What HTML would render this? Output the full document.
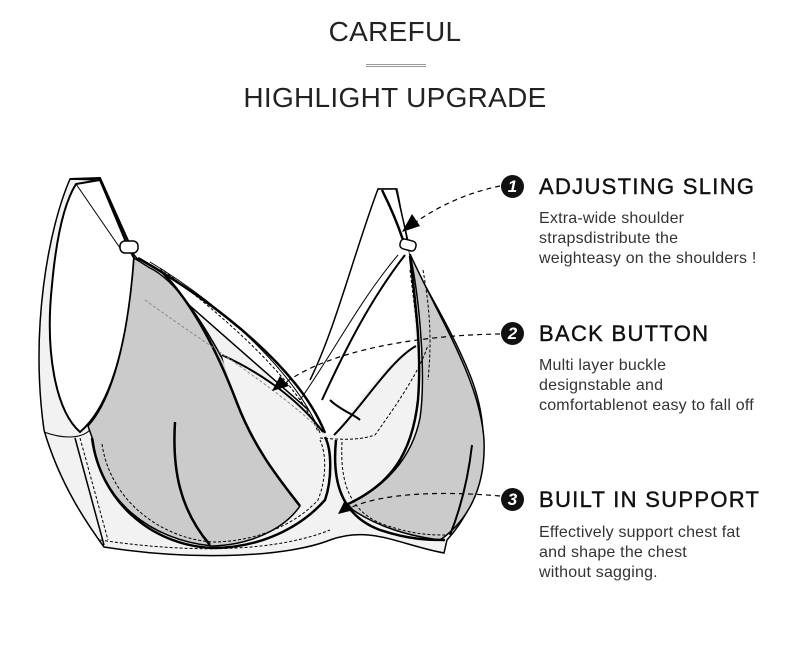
<!DOCTYPE html>
<html><head><style>
body{margin:0;width:790px;height:665px;background:#fff;position:relative;overflow:hidden;font-family:"Liberation Sans",sans-serif;color:#222}
.t{position:absolute;left:0;width:790px;text-align:center;font-size:28px;letter-spacing:0.3px;color:#222}
.h{position:absolute;left:539px;font-size:22px;letter-spacing:1.3px;color:#111;-webkit-text-stroke:0.4px #111}
.p{position:absolute;left:539px;font-size:16px;line-height:20px;color:#333;letter-spacing:0.2px}
.b{position:absolute;width:23px;height:23px;border-radius:50%;background:#111;color:#fff;font-weight:bold;font-style:italic;font-size:17px;text-align:center;line-height:23px}
</style></head><body>
<div class="t" style="top:16px">CAREFUL</div>
<div style="position:absolute;left:366px;top:64px;width:60px;border-top:1px solid #999;border-bottom:1px solid #999;height:1px"></div>
<div class="t" style="top:82px">HIGHLIGHT UPGRADE</div>

<div class="b" style="left:501px;top:175px">1</div>
<div class="h" style="top:174px">ADJUSTING SLING</div>
<div class="p" style="top:209px">Extra-wide shoulder<br>strapsdistribute the<br>weighteasy on the shoulders !</div>
<div class="b" style="left:501px;top:322px">2</div>
<div class="h" style="top:321px">BACK BUTTON</div>
<div class="p" style="top:356px">Multi layer buckle<br>designstable and<br>comfortablenot easy to fall off</div>
<div class="b" style="left:501px;top:488px">3</div>
<div class="h" style="top:487px">BUILT IN SUPPORT</div>
<div class="p" style="top:523px">Effectively support chest fat<br>and shape the chest<br>without sagging.</div>

<svg width="790" height="665" style="position:absolute;left:0;top:0" fill="none" stroke="#000">
<path d="M70,179 C48,230 30,330 44,430 C60,485 88,525 104,547 C200,562 290,556 330,540 C370,525 400,545 444,553 L447,540 C488,495 492,430 470,375 C450,325 420,280 409,254 L397,189 L378,189 C350,250 330,330 320,420 L140,262 L130,250 L100,180 Z" fill="#f2f2f2" stroke-width="1.5"/>
<path d="M100,180 L128,247 L134,258 C128,340 112,405 80,432 C55,410 45,350 52,285 C57,230 66,200 76,184 Z" fill="#fff" stroke-width="2"/>
<path d="M136,256 C220,310 298,380 322,433 L334,435 C355,408 385,360 416,346 L409,254 L397,189 L378,189 L300,200 Z" fill="#fff" stroke="none"/>
<path d="M134,258 C128,340 112,400 88,426 L93,440 C100,500 150,540 212,546 C252,545 285,528 300,506 C270,460 245,400 222,358 C200,318 175,280 150,268 Z" fill="#cbcbcb" stroke-width="1.5"/>
<path d="M222,356 C255,370 295,395 323,432 L326,440 C328,470 325,490 318,500 L300,506 C280,480 255,450 237,403 C230,385 226,370 222,356 Z" fill="#f2f2f2" stroke="none"/>
<path d="M410,254 C440,320 480,380 484,440 C486,490 466,522 440,540 C400,535 368,522 346,505 C385,488 412,458 420,418 C426,378 420,300 410,254 Z" fill="#cbcbcb" stroke-width="1.5"/>
<path d="M70,179 L100,178 L130,245" stroke-width="2"/>
<path d="M76,184 L120,248" stroke-width="1"/>
<rect x="120" y="241" width="18" height="12" rx="5" fill="#fff" stroke-width="1.5"/>
<path d="M378,189 L396,189 L410,250" stroke-width="1.5"/>
<path d="M382,190 C392,210 398,225 403,240" stroke-width="2.5"/>
<rect x="400" y="240" width="16" height="10" rx="4" fill="#fff" stroke-width="1.5" transform="rotate(15 408 245)"/>
<path d="M378,189 C355,250 335,330 310,380" stroke-width="1.5"/>
<path d="M405,255 C370,300 345,350 322,400" stroke-width="2"/>
<path d="M398,255 C360,300 335,350 300,400" stroke-width="1"/>
<path d="M330,400 C340,410 355,415 360,420" stroke-width="2"/>
<path d="M138,258 C220,305 300,370 325,433" stroke-width="2.5"/>
<path d="M150,262 C230,310 300,380 320,433" stroke-width="1"/>
<path d="M222,355 C255,370 295,395 323,432" stroke-width="2"/>
<path d="M334,435 C360,410 390,360 416,346" stroke-width="2"/>
<path d="M160,270 C190,300 215,345 237,403 C255,450 280,480 300,506" stroke-width="2.5"/>
<path d="M92,438 C100,500 150,545 212,548 C260,548 300,528 325,500 C332,480 332,450 325,437" stroke-width="2.5"/>
<path d="M175,422 C172,470 180,510 210,545" stroke-width="2.5"/>
<path d="M75,438 L104,545" stroke-width="1.5"/>
<path d="M44,432 C60,438 80,440 90,430" stroke-width="1"/>
<path d="M336,440 C332,480 340,515 380,530 C410,540 430,540 445,540" stroke-width="2.5"/>
<path d="M346,505 C390,485 412,455 418,400 C422,350 415,300 410,256" stroke-width="2.5"/>
<path d="M472,445 C468,480 460,510 450,535" stroke-width="2"/>
<g stroke-dasharray="3,2" stroke-width="1">
<path d="M80,438 L108,540"/>
<path d="M102,444 C110,500 160,538 212,542 C255,542 295,525 318,500 C326,480 327,455 320,440"/>
<path d="M100,540 C200,555 280,550 330,530"/>
<path d="M320,438 C345,440 360,440 375,435 C400,400 420,370 428,345"/>
<path d="M342,442 C340,480 348,512 385,525 C415,535 432,535 445,535"/>
<path d="M160,268 C230,320 300,385 318,432"/>
<path d="M145,300 C200,340 280,390 320,430" stroke="#888"/>
<path d="M410,270 L418,335"/>
<path d="M423,270 C430,310 432,340 428,380"/>
</g>
<g stroke-dasharray="5,4" stroke-width="1.2">
<path d="M500,186 C470,192 440,205 416,222"/>
<path d="M500,334 C420,335 330,350 285,383"/>
<path d="M500,496 C430,490 380,495 352,507"/>
</g>
<g fill="#000" stroke="none">
<polygon points="402,232 412,214 420,226"/>
<polygon points="272,391 280,376 289,386"/>
<polygon points="338,514 345,500 354,510"/>
</g>
</svg>
</body></html>
